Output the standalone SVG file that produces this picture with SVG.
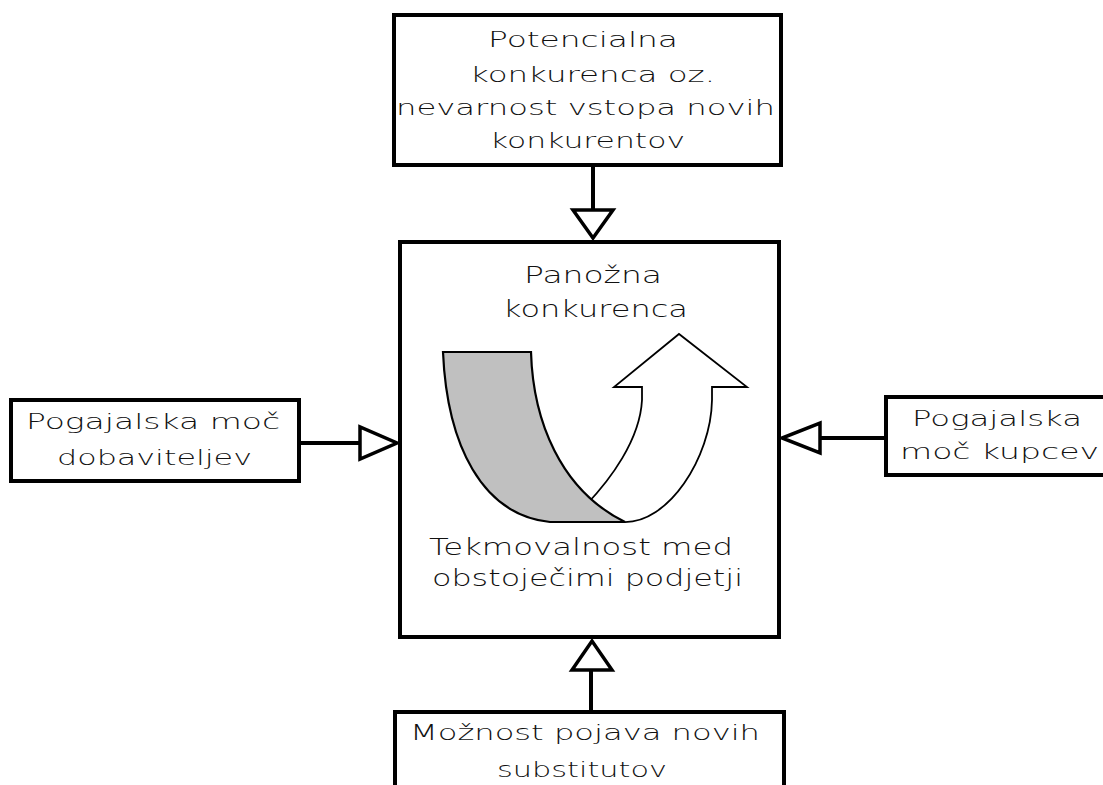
<svg xmlns="http://www.w3.org/2000/svg" width="1103" height="785" viewBox="0 0 1103 785">
<style>
.box{fill:#fff;stroke:#000;stroke-width:4}
.t{font-family:"DejaVu Sans","Liberation Sans",sans-serif;font-size:22px;font-weight:200;fill:#111}
.tm{font-family:"DejaVu Sans","Liberation Sans",sans-serif;font-size:23.5px;font-weight:200;fill:#111}
.ln{stroke:#000;stroke-width:4;fill:none}
.ah{fill:#fff;stroke:#000;stroke-width:3.5;stroke-linejoin:miter}
</style>
<rect width="1103" height="785" fill="#fff"/>
<g id="connectors">
<line class="ln" x1="593" y1="166" x2="593" y2="210"/>
<polygon class="ah" points="573,210 613,210 593,238"/>
<line class="ln" x1="591" y1="670" x2="591" y2="712"/>
<polygon class="ah" points="572,670 612,670 592,641"/>
<line class="ln" x1="300" y1="443" x2="360" y2="443"/>
<polygon class="ah" points="360,427 360,459 397,443"/>
<line class="ln" x1="820" y1="438" x2="886" y2="438"/>
<polygon class="ah" points="820,423 820,453 782,438"/>
</g>
<g id="node-top">
<rect class="box" x="394" y="15" width="387" height="150"/>
<text class="t" x="488" y="47" textLength="190" lengthAdjust="spacingAndGlyphs">Potencialna</text>
<text class="t" x="470" y="82" textLength="245" lengthAdjust="spacingAndGlyphs">konkurenca oz.</text>
<text class="t" x="396" y="115" textLength="379" lengthAdjust="spacingAndGlyphs">nevarnost vstopa novih</text>
<text class="t" x="490" y="148" textLength="195" lengthAdjust="spacingAndGlyphs">konkurentov</text>
</g>
<g id="node-center">
<rect class="box" x="400" y="242" width="379" height="395"/>
<text class="tm" x="524" y="283" textLength="138" lengthAdjust="spacingAndGlyphs">Panožna</text>
<text class="tm" x="503" y="317" textLength="185" lengthAdjust="spacingAndGlyphs">konkurenca</text>
<path d="M586,505 C610,480 640,440 642,400 L642,387 L614,387 L679,334 L747,387 L712,387 L712,400 C711,458 668,524 623,522 C605,518 595,512 586,505 Z" fill="#fff" stroke="#000" stroke-width="1.8"/>
<path d="M443,352 L531,352 C533,420 560,490 625,522 L550,522 C482,515 447,445 443,352 Z" fill="#c0c0c0" stroke="#000" stroke-width="2.2"/>
<text class="tm" x="429" y="555" textLength="304" lengthAdjust="spacingAndGlyphs">Tekmovalnost med</text>
<text class="tm" x="432" y="586" textLength="311" lengthAdjust="spacingAndGlyphs">obstoječimi podjetji</text>
</g>
<g id="node-left">
<rect class="box" x="11" y="400" width="288" height="81"/>
<text class="t" x="26" y="429" textLength="254" lengthAdjust="spacingAndGlyphs">Pogajalska moč</text>
<text class="t" x="57" y="465" textLength="195" lengthAdjust="spacingAndGlyphs">dobaviteljev</text>
</g>
<g id="node-right">
<rect class="box" x="886" y="397" width="222" height="78"/>
<text class="t" x="912" y="426" textLength="170" lengthAdjust="spacingAndGlyphs">Pogajalska</text>
<text class="t" x="900" y="459" textLength="199" lengthAdjust="spacingAndGlyphs">moč kupcev</text>
</g>
<g id="node-bottom">
<rect class="box" x="395" y="712" width="389" height="90"/>
<text class="t" x="410" y="740" textLength="350" lengthAdjust="spacingAndGlyphs">Možnost pojava novih</text>
<text class="t" x="497" y="777" textLength="170" lengthAdjust="spacingAndGlyphs">substitutov</text>
</g>
</svg>
